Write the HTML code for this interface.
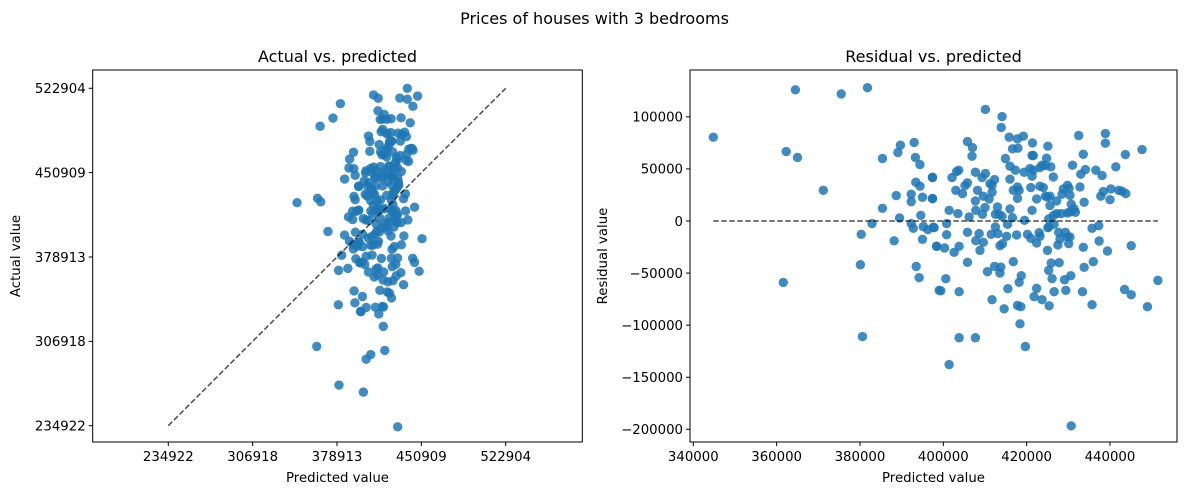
<!DOCTYPE html>
<html><head><meta charset="utf-8">
<style>
html,body{margin:0;padding:0;background:#fff;}
svg{display:block;font-family:"DejaVu Sans","Liberation Sans",sans-serif;}
</style></head>
<body>
<svg id="chart" width="1189" height="495" viewBox="0 0 1189 495" xmlns="http://www.w3.org/2000/svg">
  <text x="594.5" y="24" font-size="16" text-anchor="middle" fill="#000">Prices of houses with 3 bedrooms</text>
  <text x="337.5" y="62" font-size="16" text-anchor="middle" fill="#000">Actual vs. predicted</text>
  <text x="933.5" y="62" font-size="16" text-anchor="middle" fill="#000">Residual vs. predicted</text>
  <text x="337.5" y="482" font-size="13.3" text-anchor="middle" fill="#000">Predicted value</text>
  <text x="933.5" y="482" font-size="13.3" text-anchor="middle" fill="#000">Predicted value</text>
  <text transform="translate(20,256) rotate(-90)" font-size="13.3" text-anchor="middle" fill="#000">Actual value</text>
  <text transform="translate(607,256) rotate(-90)" font-size="13.3" text-anchor="middle" fill="#000">Residual value</text>
  <g id="left"></g>
  <g id="right"></g>
</svg>
<script>
// predicted values (thousands)
const predicted = [344.8,364.5,375.5,381.8,362.3,365,371.2,361.6,380.6,380.1,380.3,382.9,385.4,385.4,388.2,388.7,389.1,389.7,389.5,392.3,392.3,392.3,392.8,393,393.3,394.4,393.4,394.4,395,394.6,395.2,395,393.5,394.2,397.4,397.4,397.6,396.3,398.4,399,
397.4,397.4,397.8,398.4,400.3,400.8,401.4,400.8,402.6,403.0,402.1,403.2,403.7,403.5,404.6,405.2,405.8,405.8,407.0,406.9,406.2,405.8,403.8,405.8,400.6,399.4,403.8,403.8,401.4,407.7,407.7,408.2,407.7,407.8,409.3,410.1,409.6,409.4,410.0,411.2,411.7,412.3,411.0,411.7,410.1,414.1,413.9,415.8,417.8,419.2,421.4,416.6,417.9,414.9,416.0,417.3,419.4,420.8,421.3,421.6,421.3,416.0,417.8,418.2,416.8,417.8,413.0,416.0,413.4,412.5,414.1,415.4,416.6,412.5,419.5,
408.6,407.8,408.8,409.6,411.5,413.1,413.6,414.2,415.2,417.6,420.2,421.0,422.4,423.0,423.2,425.0,425.3,426.6,425.9,427.8,425.3,426.1,429.1,430.6,426.6,429.4,422.4,421.8,423.7,425.4,418.7,418.2,416.8,415.5,413.8,413.6,412.3,410.6,411.7,414.6,417.8,418.6,418.4,419.7,
421.6,423.2,423.7,424.5,424.8,425.1,425.8,426.4,423.2,424.0,425.0,425.6,427.2,428.5,428.8,429.8,430.2,430.4,431.7,430.7,430.4,429.8,431.4,427.2,426.4,425.3,425.1,427.7,429.3,429.8,428.0,427.5,430.1,430.4,
432.5,433.6,434.1,433.0,432.8,431.0,433.8,436.6,438.1,438.4,437.8,440.2,440.0,438.9,438.9,441.4,443.7,442.1,442.9,443.8,447.7,435.7,437.3,437.4,439.4,433.6,436.0,433.8,433.4,435.7,445.1,443.5,445.1,449.0,451.5,430.7,421.0,422.4,424.5,421.3,425.6,428.3];
// residual values (thousands)
const residual = [80.5,126,122,128,66.7,61,29.5,-59,-111,-42,-12.8,-2.5,60,12.2,-19,24.4,65.8,72.8,2.9,25.7,18.6,-2.5,-7,75.4,61,54.2,37.2,33.4,22.8,5.5,-5.4,-17.6,-43.6,-54.4,42,21.5,-6,-8.3,-24.3,-66.6,
41.7,21.5,-6.4,-24.3,-25.9,-2.5,10.3,-13.1,-30.1,29.5,41.7,47.5,48.8,7.1,26.3,34.0,36.6,76.3,70.5,62.2,3.9,-10.9,-24.3,-39.7,-55.4,-67,-67.9,-112.1,-137.8,-112.1,46.8,29.5,19.3,10.3,41.7,45.6,23.8,6.4,12.9,35.9,34.3,39.8,21.2,27.6,107.1,100.3,89.8,80.5,78.9,81.4,75.0,69.3,69.9,60,52.6,48.8,46.8,50.3,62.9,62.9,43.0,40.1,32.7,29.5,29.5,21.8,13.5,11.6,6.4,6.4,4.5,-3.2,3.2,-5.7,0.7,
-12.1,-18.9,-28.2,-20.5,-12.8,-12.1,-23.7,-21.8,-14.7,-13.4,-12.8,-16.6,-21.1,-11.2,-14.7,-28.2,-5.7,-3.2,-40.4,-40.0,-47.4,-55.4,-56.4,-52.5,-67.9,-66.6,-64.7,-72.7,-75.6,-81.4,-52.5,-58.9,-39.1,-65.0,-44.2,-50.0,-43.6,-48.7,-75.6,-84.3,-81.1,-82.3,-98.7,-120.5,
48.8,51.3,53.6,53.2,60.3,71.8,52,42.3,33.4,32.1,23.1,23.8,19.3,25.7,30.8,34.3,31.4,24.7,8.4,16.1,8.7,7.7,11.6,7.1,5.2,2.0,-6.4,-10.9,-10.9,-15.3,-17.3,-23.0,-21.8,-15.3,
82.1,64.1,49.4,44.9,32.7,53.6,18.0,48.8,43.6,28.2,23.8,30.8,20.5,84.0,74.7,52.0,63.8,29.5,28.6,26.3,68.6,-7.0,-4.5,-19.2,-28.8,-25.3,-39.1,-44.5,-67.9,-80.4,-23.7,-65.7,-70.8,-82.3,-57.0,-196.7,32.1,21.2,23.8,10.3,14.8,7.1];
const leftTicks = [234922,306918,378913,450909,522904];
const rightXTicks = [340000,360000,380000,400000,420000,440000];
const rightYTicks = [100000,50000,0,-50000,-100000,-150000,-200000];

const NS="http://www.w3.org/2000/svg";
function mk(tag,attrs,parent){const e=document.createElementNS(NS,tag);for(const k in attrs)e.setAttribute(k,attrs[k]);parent.appendChild(e);return e;}
function fmt(v){return v<0?"\u2212"+Math.abs(v):String(v);}

// Left axes
const L={x0:92.7,x1:582.3,y0:70,y1:442};
const lx=v=>168.3+(v-234922)/853.5;
const ly=v=>425.7-(v-234922)/853.5;
const gl=document.getElementById('left');
for(let i=0;i<predicted.length;i++){
  const p=predicted[i]*1000, a=(predicted[i]+residual[i])*1000;
  const c=mk('circle',{cx:lx(p),cy:ly(a),r:4.7,fill:'#1f77b4','fill-opacity':0.85},gl);
  
  
}
const mn=leftTicks[0], mx=leftTicks[leftTicks.length-1];
const dl=mk('line',{x1:lx(mn),y1:ly(mn),x2:lx(mx),y2:ly(mx),stroke:'#000','stroke-opacity':0.7,'stroke-width':1.5,'stroke-dasharray':'5.5,2.5'},gl);


const lf=mk('rect',{x:L.x0,y:L.y0,width:L.x1-L.x0,height:L.y1-L.y0,fill:'none',stroke:'#000','stroke-width':1},gl);


leftTicks.forEach(t=>{
  mk('line',{x1:lx(t),y1:L.y1,x2:lx(t),y2:L.y1+4,stroke:'#000'},gl);
  const tx=mk('text',{x:lx(t),y:L.y1+19,'font-size':13.3,'text-anchor':'middle'},gl);tx.textContent=t;
  
  
  mk('line',{x1:L.x0-4,y1:ly(t),x2:L.x0,y2:ly(t),stroke:'#000'},gl);
  const ty=mk('text',{x:L.x0-7,y:ly(t)+4.8,'font-size':13.3,'text-anchor':'end'},gl);ty.textContent=t;
  
  
});

// Right axes
const R={x0:690,x1:1177,y0:70,y1:442};
const rx=v=>693.3+(v-340000)*0.0041667;
const ry=v=>221-v*0.0010415;
const gr=document.getElementById('right');
for(let i=0;i<predicted.length;i++){
  const c=mk('circle',{cx:rx(predicted[i]*1000),cy:ry(residual[i]*1000),r:4.7,fill:'#1f77b4','fill-opacity':0.85},gr);
  
  
}
const pmin=Math.min(...predicted)*1000, pmax=Math.max(...predicted)*1000;
const zl=mk('line',{x1:rx(pmin),y1:ry(0),x2:rx(pmax),y2:ry(0),stroke:'#000','stroke-opacity':0.7,'stroke-width':1.5,'stroke-dasharray':'5.5,2.5'},gr);


const rf=mk('rect',{x:R.x0,y:R.y0,width:R.x1-R.x0,height:R.y1-R.y0,fill:'none',stroke:'#000','stroke-width':1},gr);


rightXTicks.forEach(t=>{
  mk('line',{x1:rx(t),y1:R.y1,x2:rx(t),y2:R.y1+4,stroke:'#000'},gr);
  const tx=mk('text',{x:rx(t),y:R.y1+19,'font-size':13.3,'text-anchor':'middle'},gr);tx.textContent=t;
  
  
});
rightYTicks.forEach(t=>{
  mk('line',{x1:R.x0-4,y1:ry(t),x2:R.x0,y2:ry(t),stroke:'#000'},gr);
  const ty=mk('text',{x:R.x0-7,y:ry(t)+4.8,'font-size':13.3,'text-anchor':'end'},gr);ty.textContent=fmt(t);
  
  
});
</script>
</body></html>
